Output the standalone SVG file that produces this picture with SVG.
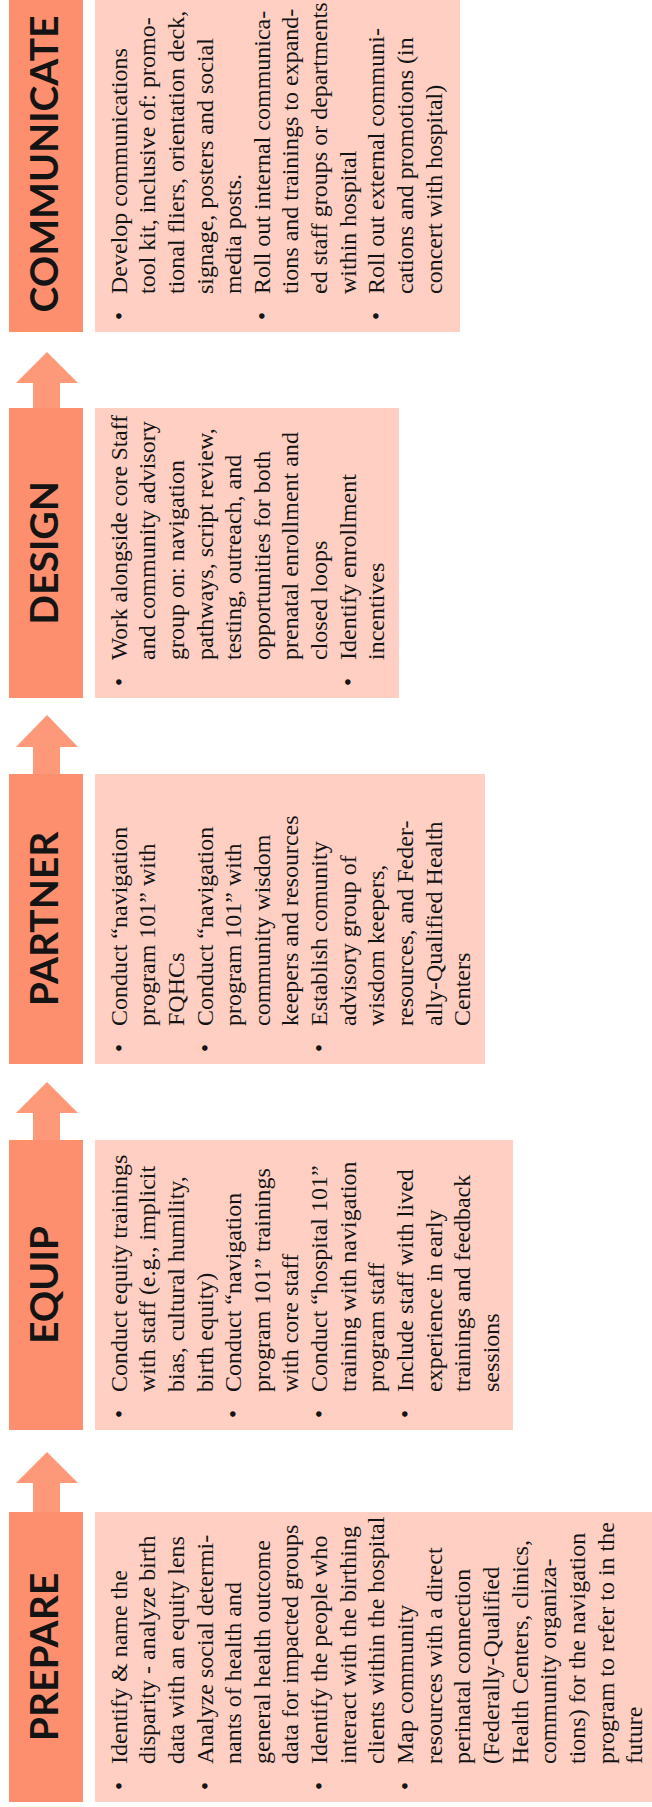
<svg xmlns="http://www.w3.org/2000/svg" width="652" height="1807" viewBox="0 0 652 1807">
<style>
.hdr{fill:#FD8F6F}
.box{fill:#FFCFC3}
.arr{fill:#FD9878}
.ht{font-family:Lato,"Liberation Sans",sans-serif;font-weight:700;font-size:39px;fill:#141414;text-anchor:middle}
.bt{font-family:"Liberation Serif",serif;font-size:24px;fill:#141414}
.bu{font-family:"Liberation Serif",serif;font-size:24px;fill:#141414;text-anchor:middle}
</style>
<rect width="652" height="1807" fill="#ffffff"/>
<g id="connectors">
<polygon class="arr" points="47,1452 78,1483 60,1483 60,1514 33,1514 33,1483 16,1483"/>
<polygon class="arr" points="47,1082 78,1113 60,1113 60,1142 33,1142 33,1113 16,1113"/>
<polygon class="arr" points="47,715 78,747 60,747 60,776 33,776 33,747 16,747"/>
<polygon class="arr" points="47,352 78,383 60,383 60,410 33,410 33,383 16,383"/>
</g>
<g id="prepare" transform="translate(0,1802) rotate(-90)">
<rect class="hdr" x="0" y="9" width="290" height="74"/>
<text class="ht" x="145" y="58">PREPARE</text>
<rect class="box" x="0" y="95" width="290" height="557"/>
<text class="bu" x="16" y="126.5">•</text>
<text class="bu" x="16" y="212.5">•</text>
<text class="bu" x="16" y="327.1">•</text>
<text class="bu" x="16" y="413">•</text>
<text class="bt" x="38" y="126.5">Identify &amp; name the</text>
<text class="bt" x="38" y="155.2">disparity - analyze birth</text>
<text class="bt" x="38" y="183.8">data with an equity lens</text>
<text class="bt" x="38" y="212.5">Analyze social determi-</text>
<text class="bt" x="38" y="241.1">nants of health and</text>
<text class="bt" x="38" y="269.8">general health outcome</text>
<text class="bt" x="38" y="298.4">data for impacted groups</text>
<text class="bt" x="38" y="327.1">Identify the people who</text>
<text class="bt" x="38" y="355.7">interact with the birthing</text>
<text class="bt" x="38" y="384.4">clients within the hospital</text>
<text class="bt" x="38" y="413">Map community</text>
<text class="bt" x="38" y="441.7">resources with a direct</text>
<text class="bt" x="38" y="470.3">perinatal connection</text>
<text class="bt" x="38" y="499">(Federally-Qualified</text>
<text class="bt" x="38" y="527.6">Health Centers, clinics,</text>
<text class="bt" x="38" y="556.3">community organiza-</text>
<text class="bt" x="38" y="584.9">tions) for the navigation</text>
<text class="bt" x="38" y="613.6">program to refer to in the</text>
<text class="bt" x="38" y="642.2">future</text>
</g>
<g id="equip" transform="translate(0,1430) rotate(-90)">
<rect class="hdr" x="0" y="9" width="290" height="74"/>
<text class="ht" x="145" y="58">EQUIP</text>
<rect class="box" x="0" y="95" width="290" height="418"/>
<text class="bu" x="16" y="126.5">•</text>
<text class="bu" x="16" y="241.1">•</text>
<text class="bu" x="16" y="327.1">•</text>
<text class="bu" x="16" y="413">•</text>
<text class="bt" x="38" y="126.5">Conduct equity trainings</text>
<text class="bt" x="38" y="155.2">with staff (e.g., implicit</text>
<text class="bt" x="38" y="183.8">bias, cultural humility,</text>
<text class="bt" x="38" y="212.5">birth equity)</text>
<text class="bt" x="38" y="241.1">Conduct “navigation</text>
<text class="bt" x="38" y="269.8">program 101” trainings</text>
<text class="bt" x="38" y="298.4">with core staff</text>
<text class="bt" x="38" y="327.1">Conduct “hospital 101”</text>
<text class="bt" x="38" y="355.7">training with navigation</text>
<text class="bt" x="38" y="384.4">program staff</text>
<text class="bt" x="38" y="413">Include staff with lived</text>
<text class="bt" x="38" y="441.7">experience in early</text>
<text class="bt" x="38" y="470.3">trainings and feedback</text>
<text class="bt" x="38" y="499">sessions</text>
</g>
<g id="partner" transform="translate(0,1064) rotate(-90)">
<rect class="hdr" x="0" y="9" width="290" height="74"/>
<text class="ht" x="145" y="58">PARTNER</text>
<rect class="box" x="0" y="95" width="290" height="390"/>
<text class="bu" x="16" y="126.5">•</text>
<text class="bu" x="16" y="212.5">•</text>
<text class="bu" x="16" y="327.1">•</text>
<text class="bt" x="38" y="126.5">Conduct “navigation</text>
<text class="bt" x="38" y="155.2">program 101” with</text>
<text class="bt" x="38" y="183.8">FQHCs</text>
<text class="bt" x="38" y="212.5">Conduct “navigation</text>
<text class="bt" x="38" y="241.1">program 101” with</text>
<text class="bt" x="38" y="269.8">community wisdom</text>
<text class="bt" x="38" y="298.4">keepers and resources</text>
<text class="bt" x="38" y="327.1">Establish comunity</text>
<text class="bt" x="38" y="355.7">advisory group of</text>
<text class="bt" x="38" y="384.4">wisdom keepers,</text>
<text class="bt" x="38" y="413">resources, and Feder-</text>
<text class="bt" x="38" y="441.7">ally-Qualified Health</text>
<text class="bt" x="38" y="470.3">Centers</text>
</g>
<g id="design" transform="translate(0,698) rotate(-90)">
<rect class="hdr" x="0" y="9" width="290" height="74"/>
<text class="ht" x="145" y="58">DESIGN</text>
<rect class="box" x="0" y="95" width="290" height="304"/>
<text class="bu" x="16" y="126.5">•</text>
<text class="bu" x="16" y="355.7">•</text>
<text class="bt" x="38" y="126.5" textLength="245" lengthAdjust="spacingAndGlyphs">Work alongside core Staff</text>
<text class="bt" x="38" y="155.2">and community advisory</text>
<text class="bt" x="38" y="183.8">group on: navigation</text>
<text class="bt" x="38" y="212.5">pathways, script review,</text>
<text class="bt" x="38" y="241.1">testing, outreach, and</text>
<text class="bt" x="38" y="269.8">opportunities for both</text>
<text class="bt" x="38" y="298.4">prenatal enrollment and</text>
<text class="bt" x="38" y="327.1">closed loops</text>
<text class="bt" x="38" y="355.7">Identify enrollment</text>
<text class="bt" x="38" y="384.4">incentives</text>
</g>
<g id="communicate" transform="translate(0,332) rotate(-90)">
<rect class="hdr" x="0" y="9" width="340" height="74"/>
<text class="ht" x="168" y="58">COMMUNICATE</text>
<rect class="box" x="0" y="95" width="340" height="365"/>
<text class="bu" x="16" y="126.5">•</text>
<text class="bu" x="16" y="269.8">•</text>
<text class="bu" x="16" y="384.4">•</text>
<text class="bt" x="38" y="126.5">Develop communications</text>
<text class="bt" x="38" y="155.2">tool kit, inclusive of: promo-</text>
<text class="bt" x="38" y="183.8">tional fliers, orientation deck,</text>
<text class="bt" x="38" y="212.5">signage, posters and social</text>
<text class="bt" x="38" y="241.1">media posts.</text>
<text class="bt" x="38" y="269.8">Roll out internal communica-</text>
<text class="bt" x="38" y="298.4">tions and trainings to expand-</text>
<text class="bt" x="38" y="327.1">ed staff groups or departments</text>
<text class="bt" x="38" y="355.7">within hospital</text>
<text class="bt" x="38" y="384.4">Roll out external communi-</text>
<text class="bt" x="38" y="413">cations and promotions (in</text>
<text class="bt" x="38" y="441.7">concert with hospital)</text>
</g>
</svg>
